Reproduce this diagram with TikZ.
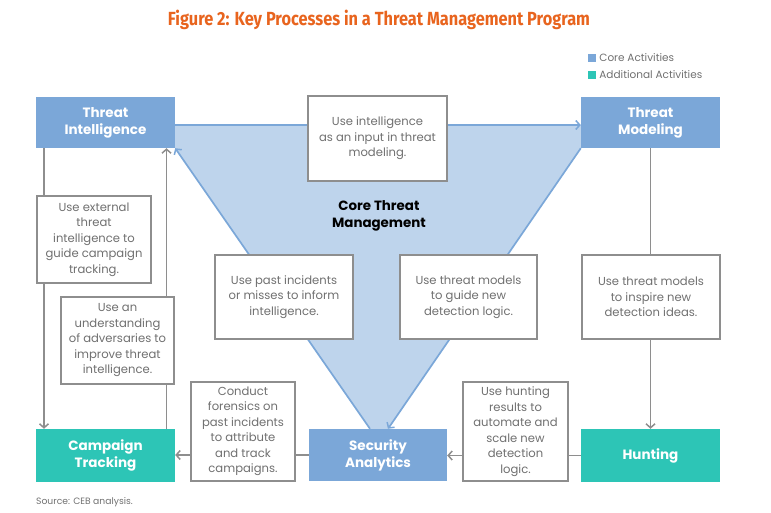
\documentclass[tikz,border=0pt]{standalone}
\usepackage{fontspec}
\setmainfont{Poppins}
\newfontfamily\titlefont{Fira Sans}
\usepackage{tikz}
\usetikzlibrary{arrows.meta,calc,positioning,backgrounds}
\definecolor{Core}{HTML}{7BA7D8}
\definecolor{CoreLight}{HTML}{BED4EC}
\definecolor{Extra}{HTML}{2DC5B6}
\definecolor{Rule}{HTML}{8E8E8E}
\definecolor{Ink}{HTML}{707070}
\definecolor{Heading}{HTML}{E8641E}

\tikzset{
  corebox/.style={fill=Core, minimum width=139pt, minimum height=51pt, inner sep=2pt, align=center, text=white, font=\fontsize{13.5}{17}\selectfont\bfseries},
  addbox/.style={corebox, fill=Extra, minimum height=53pt},
  notebox/.style={draw=Rule, line width=1.7pt, fill=white, align=center, inner sep=2pt, text=Ink, font=\fontsize{11.6}{15.5}\selectfont},
  flow/.style={draw=Rule, line width=1.7pt, -{Straight Barb[length=4pt,width=9pt,line width=1.5pt]}},
  coreflow/.style={draw=Core, line width=1.7pt, -{Straight Barb[length=4pt,width=9pt,line width=1.5pt]}},
  legendkey/.style={minimum size=8pt, inner sep=0pt},
}

\begin{document}
\begin{tikzpicture}[x=1pt, y=-1pt]
    \useasboundingbox (0,0) rectangle (771,513);
    \node[text=Heading, font=\titlefont\bfseries\fontsize{19}{21}\selectfont] (title) at (379,20) {\scalebox{0.86}[1]{Figure 2: Key Processes in a Threat Management Program}};

    \node[legendkey, fill=Core] (keycore) at (592,58) {};
    \node[legendkey, fill=Extra] (keyadd) at (592,75) {};
    \node[anchor=west, text=Ink, font=\fontsize{10.5}{12}\selectfont, inner xsep=3pt] at (keycore.east) {Core Activities};
    \node[anchor=west, text=Ink, font=\fontsize{10.5}{12}\selectfont, inner xsep=3pt] at (keyadd.east) {Additional Activities};

    \node[corebox] (ti) at (105.5,122.5) {Threat\\Intelligence};
    \node[corebox] (tm) at (650.5,122.5) {Threat\\Modeling};
    \node[addbox] (ct) at (105.5,455.5) {Campaign\\Tracking};
    \node[addbox] (hu) at (650.5,455.5) {Hunting};
    \node[corebox, minimum width=138pt, minimum height=52pt] (sa) at (378,455) {Security\\Analytics};

    \node[font=\fontsize{13.4}{17}\selectfont\bfseries, align=center] (core) at (379,216) {Core Threat\\Management};

    \node[notebox, minimum width=139pt, minimum height=85pt] (ninput) at (377.5,138.5) {Use intelligence\\as an input in threat\\modeling.};
    \node[notebox, minimum width=114pt, minimum height=87pt] (next) at (94,239.5) {Use external\\threat\\intelligence to\\guide campaign\\tracking.};
    \node[notebox, minimum width=113pt, minimum height=87pt] (nadv) at (117.5,340.5) {Use an\\understanding\\of adversaries to\\improve threat\\intelligence.};
    \node[notebox, minimum width=104pt, minimum height=99pt] (nfor) at (243,431.5) {Conduct\\forensics on\\past incidents\\to attribute\\and track\\campaigns.};
    \node[notebox, minimum width=138pt, minimum height=84pt] (npast) at (284,297) {Use past incidents\\or misses to inform\\intelligence.};
    \node[notebox, minimum width=137pt, minimum height=84pt] (nguide) at (468.5,297) {Use threat models\\to guide new\\detection logic.};
    \node[notebox, minimum width=138pt, minimum height=84pt] (ninspire) at (651,297) {Use threat models\\to inspire new\\detection ideas.};
    \node[notebox, minimum width=105pt, minimum height=99pt] (nhunt) at (515.5,431.5) {Use hunting\\results to\\automate and\\scale new\\detection\\logic.};

    \node[anchor=west, text=Ink, font=\fontsize{9.2}{11}\selectfont, inner sep=0pt] (source) at (36,502) {Source: CEB analysis.};

    \begin{scope}[on background layer]
      \fill[CoreLight] ([yshift=-2.5pt]ti.east) -- ([yshift=-2.5pt]tm.west) -- (tm.south west)
        -- ([xshift=10pt]sa.north) -- ([xshift=-8pt]sa.north) -- (ti.south east) -- cycle;
      \draw[coreflow] ([yshift=-2.5pt]ti.east) -- ([yshift=-2.5pt]tm.west);
      \draw[coreflow] ([xshift=-8pt]sa.north) -- (ti.south east);
      \draw[coreflow] (tm.south west) -- ([xshift=10pt]sa.north);
      \draw[flow] ([xshift=-61.5pt]ti.south) -- ([xshift=-61.5pt]ct.north);
      \draw[flow] ([xshift=61pt]ct.north) -- ([xshift=61pt]ti.south);
      \draw[flow] (tm.south) -- (hu.north);
      \draw[flow] (sa.west) -- (sa.west -| ct.east);
      \draw[flow] (hu.west) -- (hu.west -| sa.east);
    \end{scope}
  \end{tikzpicture}
\end{document}
